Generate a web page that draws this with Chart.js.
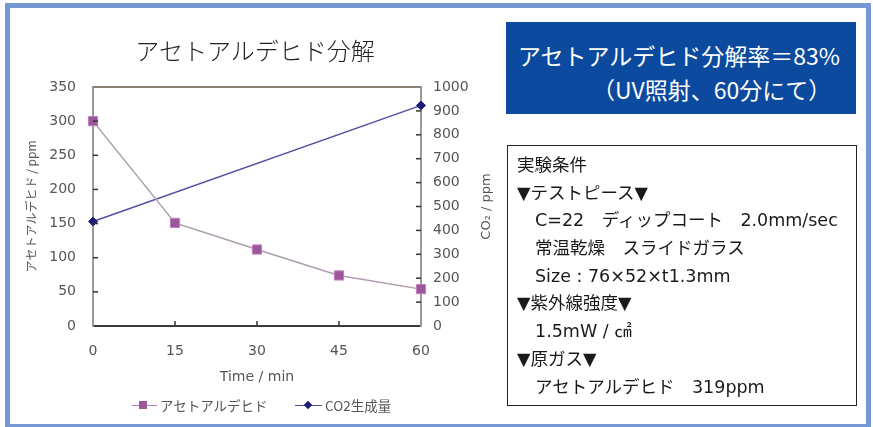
<!DOCTYPE html>
<html><head><meta charset="utf-8">
<script src="https://cdn.jsdelivr.net/npm/chart.js@4"></script>
<style>
html,body{margin:0;padding:0;background:#fff;}
body{width:873px;height:427px;position:relative;overflow:hidden;font-family:"DejaVu Sans","Noto Sans CJK JP",sans-serif;}
#frame{position:absolute;left:5px;top:3px;width:866px;height:426px;box-sizing:border-box;border:5px solid #7597d3;}
#cv{position:absolute;left:0;top:0;}
#title{position:absolute;left:0;width:510px;top:33px;text-align:center;font-family:"Noto Sans CJK JP",sans-serif;font-weight:300;font-size:24px;line-height:34px;color:#222;}
#bluebox{position:absolute;left:506px;top:22px;width:350px;height:92px;background:#0b4a9e;color:#fff;font-family:"Noto Sans CJK JP",sans-serif;font-weight:400;font-size:23px;}
#bluebox .l1{position:absolute;left:12px;top:17px;line-height:32px;white-space:nowrap;}
#bluebox .l2{position:absolute;left:86px;top:51px;line-height:32px;white-space:nowrap;}
#cond{position:absolute;left:507px;top:145px;width:350px;height:261px;box-sizing:border-box;border:1px solid #222;padding:6px 0 0 9px;font-size:17.5px;color:#1a1a1a;}
#cond div{line-height:27.7px;height:27.7px;white-space:nowrap;}
#cond .in{padding-left:18px;}
#legend{position:absolute;top:396px;left:0;height:18px;font-family:"Noto Sans CJK JP",sans-serif;font-size:13.5px;color:#555;}
.li{position:absolute;top:0;height:18px;line-height:18px;white-space:nowrap;}
.li .ln{position:absolute;top:9px;height:0;border-top:1.5px solid;}
.li .mk{position:absolute;}
.li .tx{position:absolute;top:0;}
</style>
</head>
<body>
<div id="frame"></div>
<canvas id="cv" width="873" height="427"></canvas>
<div id="title">アセトアルデヒド分解</div>
<div id="bluebox"><div class="l1">アセトアルデヒド分解率＝83%</div><div class="l2">（UV照射、60分にて）</div></div>
<div id="cond">
<div>実験条件</div>
<div>▼テストピース▼</div>
<div class="in">C=22　ディップコート　2.0mm/sec</div>
<div class="in">常温乾燥　スライドガラス</div>
<div class="in">Size : 76×52×t1.3mm</div>
<div>▼紫外線強度▼</div>
<div class="in">1.5mW / ㎠</div>
<div>▼原ガス▼</div>
<div class="in">アセトアルデヒド　319ppm</div>
</div>
<div id="legend">
 <div class="li" style="left:132px;width:140px;">
  <div class="ln" style="left:0;width:25px;border-color:#b878b8;"></div>
  <div class="mk" style="left:7px;top:5px;width:8px;height:8px;background:#9a5898;"></div>
  <div class="tx" style="left:28px;">アセトアルデヒド</div>
 </div>
 <div class="li" style="left:295px;width:120px;">
  <div class="ln" style="left:0;width:27px;border-color:#4a4aa8;"></div>
  <div class="mk" style="left:10px;top:6px;width:6px;height:6px;background:#1c1c78;transform:rotate(45deg);"></div>
  <div class="tx" style="left:30px;">CO2生成量</div>
 </div>
</div>
<script>
// ---- data ----
const times = ['0', '15', '30', '45', '60'];
const acetaldehyde = [300, 151, 112, 74, 54];
const co2 = [437, null, null, null, 923];
const seriesNames = ['アセトアルデヒド', 'CO2生成量'];
const xTitle = 'Time / min';
const yTitle = 'アセトアルデヒド / ppm';
const y1Title = 'CO₂ / ppm';
const yRange = [0, 350, 50];
const y1Range = [0, 1000, 100];

const tickFont = {family: '"DejaVu Sans", sans-serif', size: 14};
const tickColor = '#555';

const decor = {
  id: 'decor',
  afterDraw(chart) {
    const {ctx, chartArea: a, scales} = chart;
    ctx.save();
    ctx.strokeStyle = '#8a8276'; ctx.lineWidth = 2;
    ctx.beginPath(); ctx.moveTo(a.left, a.top); ctx.lineTo(a.right, a.top); ctx.stroke();
    ctx.strokeStyle = '#333'; ctx.lineWidth = 1.5;
    scales.y.ticks.forEach(t => {
      if (t.value <= yRange[0] || t.value >= yRange[1]) return;
      const p = scales.y.getPixelForValue(t.value);
      ctx.beginPath(); ctx.moveTo(a.left, p); ctx.lineTo(a.left + 5, p); ctx.stroke();
    });
    scales.y1.ticks.forEach(t => {
      if (t.value <= y1Range[0] || t.value >= y1Range[1]) return;
      const p = scales.y1.getPixelForValue(t.value);
      ctx.beginPath(); ctx.moveTo(a.right - 5, p); ctx.lineTo(a.right, p); ctx.stroke();
    });
    times.forEach((lab, i) => {
      if (i === 0 || i === times.length - 1) return;
      const p = scales.x.getPixelForValue(i);
      ctx.beginPath(); ctx.moveTo(p, a.bottom); ctx.lineTo(p, a.bottom - 5); ctx.stroke();
    });
    ctx.fillStyle = '#555';
    ctx.textAlign = 'center'; ctx.textBaseline = 'middle';
    ctx.font = '14px "DejaVu Sans", sans-serif';
    ctx.fillText(xTitle, (a.left + a.right) / 2, 377);
    const cy = (a.top + a.bottom) / 2;
    ctx.save();
    ctx.translate(31, cy); ctx.rotate(-Math.PI / 2);
    ctx.font = '12px "Noto Sans CJK JP", sans-serif';
    ctx.fillText(yTitle, 0, 0);
    ctx.restore();
    ctx.save();
    ctx.translate(487, cy); ctx.rotate(-Math.PI / 2);
    ctx.font = '13px "DejaVu Sans", sans-serif';
    ctx.fillText(y1Title, 0, 0);
    ctx.restore();
    ctx.restore();
  }
};

new Chart(document.getElementById('cv'), {
  type: 'line',
  data: {
    labels: times,
    datasets: [
      {
        label: seriesNames[0], data: acetaldehyde, yAxisID: 'y',
        borderColor: '#ad9cad', borderWidth: 1.5,
        pointStyle: 'rect', pointRadius: 6.5, pointBackgroundColor: '#9a5898',
        pointBorderColor: '#c27ec2', pointBorderWidth: 1, clip: false, tension: 0
      },
      {
        label: seriesNames[1], data: co2, yAxisID: 'y1', spanGaps: true,
        borderColor: '#5050a2', borderWidth: 1.5,
        pointStyle: 'rectRot', pointRadius: 4.5, pointBackgroundColor: '#1c1c78',
        pointBorderColor: '#1c1c78', pointBorderWidth: 1, clip: false, tension: 0
      }
    ]
  },
  options: {
    responsive: false, animation: false, devicePixelRatio: 1,
    layout: {padding: {top: 87, left: 0, right: 0, bottom: 0}},
    plugins: {legend: {display: false}, title: {display: false}, tooltip: {enabled: false}},
    scales: {
      x: {
        offset: false,
        grid: {display: false, drawTicks: false},
        border: {display: true, color: '#3a3a3a', width: 2},
        ticks: {font: tickFont, color: tickColor, padding: 17, maxRotation: 0, autoSkip: false},
        afterFit(s) { s.height = 101; }
      },
      y: {
        position: 'left', min: yRange[0], max: yRange[1],
        grid: {display: false, drawTicks: false},
        border: {display: true, color: '#9a9a9a', width: 2},
        ticks: {stepSize: yRange[2], font: tickFont, color: tickColor, padding: 17,
                callback: v => String(v)},
        afterFit(s) { s.width = 93; }
      },
      y1: {
        position: 'right', min: y1Range[0], max: y1Range[1],
        grid: {display: false, drawTicks: false},
        border: {display: true, color: '#9a9a9a', width: 2},
        ticks: {stepSize: y1Range[2], font: tickFont, color: tickColor, padding: 12,
                callback: v => String(v)},
        afterFit(s) { s.width = 452; }
      }
    }
  },
  plugins: [decor]
});
</script>
</body></html>
